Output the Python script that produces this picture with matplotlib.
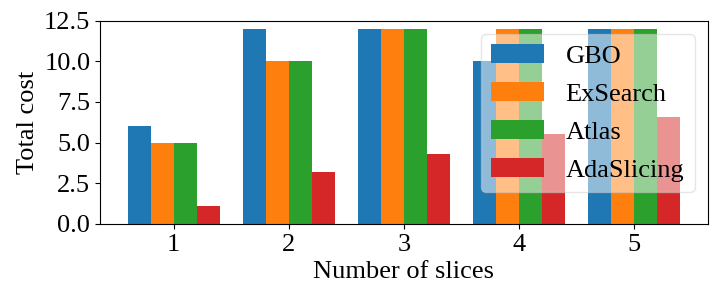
import numpy as np
import matplotlib
matplotlib.use("Agg")
import matplotlib.pyplot as plt

plt.rcParams['font.family'] = ['Liberation Serif', 'DejaVu Serif']
plt.rcParams['font.size'] = 19

# data
slices = [1, 2, 3, 4, 5]
series = ["GBO", "ExSearch", "Atlas", "AdaSlicing"]
gbo = [6, 12, 12, 10, 12]
exsearch = [5, 10, 12, 12, 12]
atlas = [5, 10, 12, 12, 12]
adaslicing = [1.1, 3.2, 4.3, 5.5, 6.6]
yticks = [0.0, 2.5, 5.0, 7.5, 10.0, 12.5]

colors = ["#1f77b4", "#ff7f0e", "#2ca02c", "#d62728"]
w = 0.2

fig, ax = plt.subplots(figsize=(7.2, 3.05), dpi=100)
x = np.array(slices)
for i, (name, vals) in enumerate(zip(series, [gbo, exsearch, atlas, adaslicing])):
    ax.bar(x + (i - 1.5) * w, vals, w, label=name, color=colors[i])

ax.set_ylim(0, 12.5)
ax.set_yticks(yticks)
ax.set_yticklabels([f"{t:.1f}" for t in yticks])
ax.set_xticks(slices)
ax.set_xlabel("Number of slices")
ax.set_ylabel("Total cost")
ax.legend(loc="upper right", framealpha=0.5, labelspacing=0.55)

plt.subplots_adjust(left=0.139, right=0.983, bottom=0.266, top=0.932)
plt.savefig("out.png")
